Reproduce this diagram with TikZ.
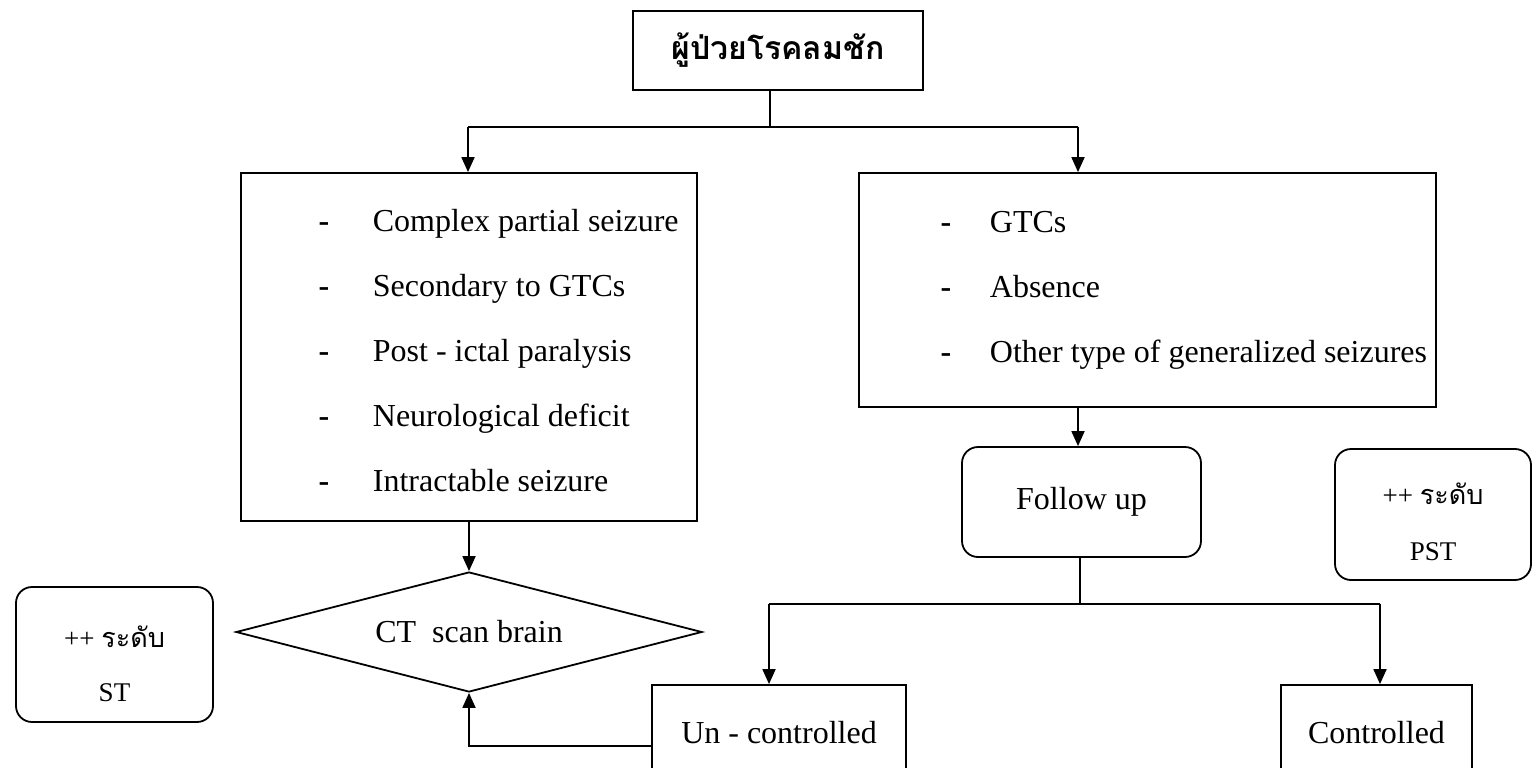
\documentclass[tikz,border=0pt]{standalone}
\usepackage{fontspec}
\setmainfont{Liberation Serif}
\newfontfamily\thai[Script=Thai]{Loma}
\usetikzlibrary{shapes.geometric,arrows.meta}
\begin{document}
\begin{tikzpicture}[x=1pt,y=-1pt,line width=1.8pt,
  font=\fontsize{32}{38}\selectfont,
  box/.style={draw, rectangle, inner sep=0pt},
  rbox/.style={draw, rectangle, rounded corners=16pt, inner sep=0pt, align=center},
  arr/.style={-{Triangle[length=15pt,width=13pt]}},
  item/.style={anchor=base west, inner sep=0pt},
  bullet/.style={anchor=base, inner sep=0pt, font=\fontsize{32}{38}\selectfont\bfseries},
  small/.style={inner sep=0pt, align=center, font=\fontsize{27}{56}\selectfont}]
\clip (0,0) rectangle (1536,768);
\fill[white] (0,0) rectangle (1536,768);

% top
\node[box, minimum width=290pt, minimum height=79pt, font=\fontsize{32}{38}\selectfont\thai\bfseries] (top) at (778,50.5) {ผู้ป่วยโรคลมชัก};

% left box
\node[box, minimum width=456pt, minimum height=348pt] (left) at (469,347) {};
\foreach \t [count=\i from 0] in {Complex partial seizure,Secondary to GTCs,Post - ictal paralysis,Neurological deficit,Intractable seizure}{
  \node[bullet] (lb\i) at (324,231+65*\i) {-};
  \node[item] (lt\i) at (372,231+65*\i) {\t};
}

% right box
\node[box, minimum width=577pt, minimum height=234pt] (right) at (1147.5,290) {};
\foreach \t [count=\i from 0] in {GTCs,Absence,Other type of generalized seizures}{
  \node[bullet] (rb\i) at (946,232+65*\i) {-};
  \node[item] (rt\i) at (989,232+65*\i) {\t};
}

% follow up
\node[rbox, minimum width=239pt, minimum height=110pt] (fu) at (1081.5,502) {Follow up};

% PST
\node[rbox, minimum width=196pt, minimum height=131pt] (pst) at (1433,514.5) {};
\node[small] (pstt) at (1433,522) {++ {\thai ระดับ}\\PST};

% ST
\node[rbox, minimum width=197pt, minimum height=135pt] (st) at (114.5,654.5) {};
\node[small, font=\fontsize{27}{54}\selectfont] (stt) at (114.5,664) {++ {\thai ระดับ}\\ST};

% diamond
\node[draw, diamond, shape aspect=3.9, inner sep=0pt, minimum width=466pt, minimum height=120pt] (dia) at (469,632) {CT\ \ scan brain};

% un-controlled, controlled
\node[box, minimum width=254pt, minimum height=96pt] (un) at (779,733) {Un - controlled};
\node[box, minimum width=191pt, minimum height=96pt] (ctl) at (1376.5,733) {Controlled};

% connectors
\coordinate (j) at (770,127);
\coordinate (jl) at (468,127);
\coordinate (jr) at (1078,127);
\draw (top.south -| j) -- (j);
\draw (jl) -- (jr);
\draw[arr] (jl) -- (left.north -| jl);
\draw[arr] (jr) -- (right.north -| jr);
\draw[arr] (right.south -| jr) -- (fu.north -| jr);
\draw[arr] (left.south) -- (dia.north);

\coordinate (k) at (1080,604);
\coordinate (kl) at (769,604);
\coordinate (kr) at (1380,604);
\draw (fu.south -| k) -- (k);
\draw (kl) -- (kr);
\draw[arr] (kl) -- (un.north -| kl);
\draw[arr] (kr) -- (ctl.north -| kr);
\draw[arr] ([yshift=-13pt]un.west) -| (dia.south);
\end{tikzpicture}
\end{document}
